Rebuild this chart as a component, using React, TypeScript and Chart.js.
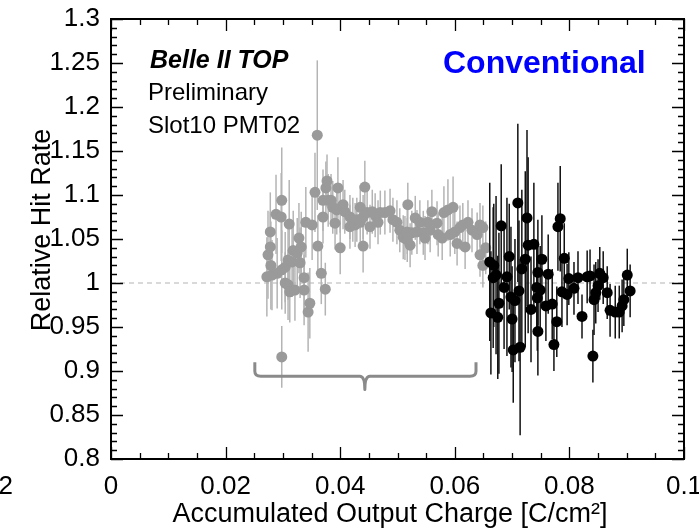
import React, { useEffect, useRef } from "react";
import { Chart, registerables } from "chart.js";

Chart.register(...registerables);

const FONT = "'Liberation Sans', Arial, Helvetica, sans-serif";

// Axis ticks
const X_TICKS = [0, 0.02, 0.04, 0.06, 0.08, 0.1];
const Y_TICKS = [0.8, 0.85, 0.9, 0.95, 1.0, 1.05, 1.1, 1.15, 1.2, 1.25, 1.3];

// Grey series (earlier period)
const greyX = [
  0.0272, 0.0274, 0.0278, 0.0278, 0.0279, 0.0281, 0.0288, 0.0290, 0.0297, 0.0298,
  0.0298, 0.0298, 0.0304, 0.0304, 0.0309, 0.0309, 0.0311, 0.0312, 0.0316, 0.0318,
  0.0321, 0.0325, 0.0328, 0.0330, 0.0332, 0.0337, 0.0337, 0.0340, 0.0344, 0.0347,
  0.0351, 0.0356, 0.0360, 0.0361, 0.0367, 0.0370, 0.0370, 0.0374, 0.0375, 0.0377,
  0.0379, 0.0384, 0.0387, 0.0391, 0.0394, 0.0396, 0.0400, 0.0400, 0.0405, 0.0408,
  0.0417, 0.0417, 0.0422, 0.0426, 0.0429, 0.0435, 0.0435, 0.0440, 0.0440, 0.0443,
  0.0447, 0.0452, 0.0456, 0.0461, 0.0466, 0.0470, 0.0478, 0.0487, 0.0492, 0.0499,
  0.0504, 0.0510, 0.0513, 0.0517, 0.0517, 0.0518, 0.0522, 0.0525, 0.0531, 0.0534,
  0.0539, 0.0545, 0.0548, 0.0553, 0.0557, 0.0560, 0.0569, 0.0571, 0.0578, 0.0581,
  0.0588, 0.0592, 0.0597, 0.0600, 0.0604, 0.0609, 0.0614, 0.0618, 0.0623, 0.0630,
  0.0639, 0.0644, 0.0644, 0.0649, 0.0649, 0.0654,
];
const greyY = [
  1.007, 1.032, 1.041, 1.058, 1.020, 1.009, 1.078, 1.011, 1.075, 1.094,
  1.015, 0.916, 1.018, 1.000, 1.026, 0.998, 1.067, 0.990, 1.024, 1.037,
  0.992, 1.034, 1.051, 1.023, 1.041, 1.006, 0.992, 1.069, 0.967, 0.977,
  1.066, 1.103, 1.168, 1.042, 1.011, 1.094, 1.075, 0.993, 1.108, 1.116,
  1.094, 1.094, 1.086, 1.068, 1.083, 1.108, 1.085, 1.040, 1.089, 1.081,
  1.075, 1.064, 1.072, 1.066, 1.072, 1.086, 1.069, 1.075, 1.042, 1.109,
  1.080, 1.064, 1.081, 1.077, 1.069, 1.080, 1.080, 1.082, 1.072, 1.069,
  1.060, 1.052, 1.051, 1.058, 1.049, 1.089, 1.043, 1.057, 1.074, 1.058,
  1.069, 1.057, 1.051, 1.069, 1.060, 1.081, 1.068, 1.055, 1.051, 1.080,
  1.083, 1.055, 1.086, 1.058, 1.045, 1.063, 1.066, 1.041, 1.069, 1.060,
  1.055, 1.066, 1.032, 1.063, 1.020, 1.040,
];
const greyErr = [
  0.045, 0.05, 0.04, 0.045, 0.05, 0.04, 0.045, 0.04, 0.05, 0.06,
  0.045, 0.035, 0.04, 0.035, 0.045, 0.04, 0.05, 0.035, 0.04, 0.045,
  0.035, 0.04, 0.04, 0.04, 0.04, 0.035, 0.04, 0.04, 0.045, 0.04,
  0.04, 0.045, 0.085, 0.035, 0.035, 0.035, 0.03, 0.03, 0.03, 0.03,
  0.03, 0.03, 0.03, 0.03, 0.028, 0.035, 0.028, 0.03, 0.028, 0.025,
  0.025, 0.025, 0.025, 0.025, 0.025, 0.025, 0.025, 0.025, 0.03, 0.03,
  0.025, 0.025, 0.025, 0.025, 0.025, 0.025, 0.025, 0.025, 0.025, 0.025,
  0.025, 0.025, 0.025, 0.025, 0.025, 0.025, 0.025, 0.025, 0.025, 0.025,
  0.025, 0.025, 0.025, 0.025, 0.025, 0.025, 0.025, 0.025, 0.025, 0.03,
  0.035, 0.025, 0.035, 0.025, 0.025, 0.025, 0.025, 0.025, 0.025, 0.025,
  0.025, 0.025, 0.025, 0.025, 0.025, 0.03,
];

// Black series (later period)
const blackX = [
  0.0661, 0.0663, 0.0667, 0.0668, 0.0672, 0.0675, 0.0677, 0.0681, 0.0686, 0.0691,
  0.0695, 0.0698, 0.0700, 0.0702, 0.0705, 0.0710, 0.0712, 0.0714, 0.0717, 0.0723,
  0.0726, 0.0728, 0.0733, 0.0738, 0.0743, 0.0744, 0.0745, 0.0745, 0.0749, 0.0752,
  0.0759, 0.0763, 0.0770, 0.0773, 0.0778, 0.0780, 0.0784, 0.0787, 0.0791, 0.0796,
  0.0799, 0.0808, 0.0815, 0.0822, 0.0831, 0.0836, 0.0841, 0.0843, 0.0846, 0.0850,
  0.0853, 0.0859, 0.0866, 0.0871, 0.0880, 0.0887, 0.0892, 0.0895, 0.0901, 0.0906,
];
const blackY = [
  1.024, 0.966, 1.006, 1.020, 1.009, 0.961, 0.977, 1.065, 0.995, 1.007,
  1.030, 0.984, 0.959, 0.924, 0.980, 1.091, 0.991, 0.927, 1.016, 1.027,
  1.074, 1.043, 0.970, 1.044, 0.995, 0.983, 1.012, 0.945, 0.992, 1.027,
  0.974, 1.010, 0.976, 0.930, 0.956, 1.064, 1.073, 0.990, 1.028, 0.987,
  1.005, 0.994, 1.006, 0.962, 1.007, 1.008, 0.917, 0.981, 0.989, 0.997,
  1.011, 1.006, 0.989, 0.969, 0.967, 0.967, 0.974, 0.981, 1.009, 0.991,
];
const blackErr = [
  0.09, 0.07, 0.08, 0.07, 0.09, 0.07, 0.08, 0.07, 0.07, 0.09,
  0.06, 0.08, 0.06, 0.06, 0.07, 0.09, 0.08, 0.1, 0.09, 0.1,
  0.1, 0.1, 0.06, 0.07, 0.05, 0.06, 0.06, 0.05, 0.05, 0.05,
  0.04, 0.045, 0.04, 0.03, 0.04, 0.05, 0.06, 0.04, 0.04, 0.035,
  0.03, 0.03, 0.03, 0.025, 0.03, 0.03, 0.03, 0.04, 0.035, 0.03,
  0.03, 0.03, 0.03, 0.03, 0.03, 0.03, 0.03, 0.03, 0.03, 0.03,
];

// Bracket annotation (data units)
const BRACKET = { x0: 0.0251, x1: 0.0637, xm: 0.0443, yTop: 0.91, yBar: 0.894, yTip: 0.879 };

const fmt = (v: number) => String(+v.toFixed(3));

const rootPlugin = {
  id: "rootStyle",
  beforeDatasetsDraw(chart: any) {
    const { ctx, chartArea } = chart;
    const ys = chart.scales.y;
    const y1 = ys.getPixelForValue(1.0);
    ctx.save();
    ctx.strokeStyle = "#b4b4b4";
    ctx.lineWidth = 1.2;
    ctx.setLineDash([5, 4]);
    ctx.beginPath();
    ctx.moveTo(chartArea.left, y1);
    ctx.lineTo(chartArea.right, y1);
    ctx.stroke();
    ctx.restore();
  },
  beforeDatasetDraw(chart: any, args: any) {
    const { ctx, chartArea } = chart;
    const ds = chart.data.datasets[args.index];
    const xs = chart.scales.x;
    const ys = chart.scales.y;
    ctx.save();
    ctx.beginPath();
    ctx.rect(chartArea.left, chartArea.top, chartArea.right - chartArea.left, chartArea.bottom - chartArea.top);
    ctx.clip();
    ctx.strokeStyle = ds.errColor;
    ctx.lineWidth = 1.5;
    ds.data.forEach((p: any, i: number) => {
      const e = ds.errs[i];
      const px = xs.getPixelForValue(p.x);
      ctx.beginPath();
      ctx.moveTo(px, ys.getPixelForValue(p.y - e));
      ctx.lineTo(px, ys.getPixelForValue(p.y + e));
      ctx.stroke();
    });
    ctx.restore();
  },
  afterDraw(chart: any) {
    const { ctx, chartArea } = chart;
    const { left, right, top, bottom } = chartArea;
    const xs = chart.scales.x;
    const ys = chart.scales.y;
    ctx.save();
    // ticks
    ctx.strokeStyle = "#000";
    ctx.lineWidth = 1.3;
    for (let i = 0; i <= 50; i++) {
      const v = 0.8 + i * 0.01;
      const py = Math.round(ys.getPixelForValue(v)) + 0.5;
      const len = i % 5 === 0 ? 12 : 6;
      ctx.beginPath();
      ctx.moveTo(left, py);
      ctx.lineTo(left + len, py);
      ctx.moveTo(right, py);
      ctx.lineTo(right - len, py);
      ctx.stroke();
    }
    for (let i = 0; i <= 20; i++) {
      const v = i * 0.005;
      const px = Math.round(xs.getPixelForValue(v)) + 0.5;
      const len = i % 4 === 0 ? 12 : 6;
      ctx.beginPath();
      ctx.moveTo(px, bottom);
      ctx.lineTo(px, bottom - len);
      ctx.moveTo(px, top);
      ctx.lineTo(px, top + len);
      ctx.stroke();
    }
    // frame
    ctx.lineWidth = 2;
    ctx.strokeRect(left, top, right - left, bottom - top);

    // bracket
    const bx0 = xs.getPixelForValue(BRACKET.x0);
    const bx1 = xs.getPixelForValue(BRACKET.x1);
    const bxm = xs.getPixelForValue(BRACKET.xm);
    const byT = ys.getPixelForValue(BRACKET.yTop);
    const byB = ys.getPixelForValue(BRACKET.yBar);
    const byTip = ys.getPixelForValue(BRACKET.yTip);
    ctx.strokeStyle = "#8a8a8a";
    ctx.lineWidth = 3;
    ctx.lineJoin = "round";
    ctx.beginPath();
    ctx.moveTo(bx0, byT);
    ctx.lineTo(bx0, byB - 5);
    ctx.quadraticCurveTo(bx0, byB, bx0 + 6, byB);
    ctx.lineTo(bxm - 5, byB);
    ctx.quadraticCurveTo(bxm, byB, bxm, byTip);
    ctx.quadraticCurveTo(bxm, byB, bxm + 5, byB);
    ctx.lineTo(bx1 - 6, byB);
    ctx.quadraticCurveTo(bx1, byB, bx1, byB - 5);
    ctx.lineTo(bx1, byT);
    ctx.stroke();

    // texts
    ctx.fillStyle = "#000";
    ctx.textAlign = "left";
    ctx.textBaseline = "alphabetic";
    ctx.font = `italic bold 25px ${FONT}`;
    ctx.fillText("Belle II TOP", 150, 68);
    ctx.font = `24px ${FONT}`;
    ctx.fillText("Preliminary", 148, 100);
    ctx.fillText("Slot10 PMT02", 148, 133);
    ctx.fillStyle = "#0000ff";
    ctx.font = `bold 32px ${FONT}`;
    ctx.fillText("Conventional", 443, 73);

    // axis titles
    ctx.fillStyle = "#000";
    ctx.font = `27px ${FONT}`;
    ctx.textAlign = "center";
    ctx.textBaseline = "alphabetic";
    ctx.fillText("Accumulated Output Charge [C/cm\u00B2]", 390, 522);
    ctx.save();
    ctx.translate(50, 230);
    ctx.rotate(-Math.PI / 2);
    ctx.fillText("Relative Hit Rate", 0, 0);
    ctx.restore();

    // cropped neighbouring label at far left
    ctx.font = `26px ${FONT}`;
    ctx.textAlign = "right";
    ctx.fillText("2", 13, 494);
    ctx.restore();
  },
};

export default function App() {
  const ref = useRef<HTMLCanvasElement | null>(null);
  useEffect(() => {
    document.body.style.margin = "0";
    const canvas = ref.current!;
    const chart = new Chart(canvas, {
      type: "scatter",
      data: {
        datasets: [
          {
            label: "later",
            data: blackX.map((x, i) => ({ x, y: blackY[i] })),
            errs: blackErr,
            errColor: "#111111",
            backgroundColor: "#000000",
            borderWidth: 0,
            pointRadius: 5.5,
          } as any,
          {
            label: "earlier",
            data: greyX.map((x, i) => ({ x, y: greyY[i] })),
            errs: greyErr,
            errColor: "#b4b4b4",
            backgroundColor: "#9a9a9a",
            borderWidth: 0,
            pointRadius: 5.5,
          } as any,
        ],
      },
      options: {
        responsive: false,
        animation: false,
        events: [],
        layout: { padding: { top: 19, right: 15, left: 0, bottom: 0 }, autoPadding: false } as any,
        plugins: { legend: { display: false }, tooltip: { enabled: false } },
        scales: {
          x: {
            type: "linear",
            min: 0,
            max: 0.1,
            afterFit: (s: any) => {
              s.height = 69;
              s.paddingLeft = 0;
              s.paddingRight = 0;
              s.paddingTop = 0;
              s.paddingBottom = 0;
            },
            afterBuildTicks: (s: any) => { s.ticks = X_TICKS.map((v) => ({ value: v })); },
            grid: { display: false, drawTicks: false },
            border: { display: false },
            ticks: {
              padding: 12,
              maxRotation: 0,
              autoSkip: false,
              color: "#000",
              font: { family: FONT, size: 26 },
              callback: (v: any) => fmt(Number(v)),
            },
          },
          y: {
            type: "linear",
            min: 0.8,
            max: 1.3,
            afterFit: (s: any) => {
              s.width = 111;
              s.paddingLeft = 0;
              s.paddingRight = 0;
              s.paddingTop = 0;
              s.paddingBottom = 0;
            },
            afterBuildTicks: (s: any) => { s.ticks = Y_TICKS.map((v) => ({ value: v })); },
            grid: { display: false, drawTicks: false },
            border: { display: false },
            ticks: {
              padding: 11,
              autoSkip: false,
              color: "#000",
              font: { family: FONT, size: 26 },
              callback: (v: any) => fmt(Number(v)),
            },
          },
        },
      },
      plugins: [rootPlugin],
    });
    return () => chart.destroy();
  }, []);
  return (
    <div style={{ position: "absolute", left: 0, top: 0, width: 699, height: 528 }}>
      <canvas ref={ref} width={699} height={528} style={{ display: "block" }} />
    </div>
  );
}
